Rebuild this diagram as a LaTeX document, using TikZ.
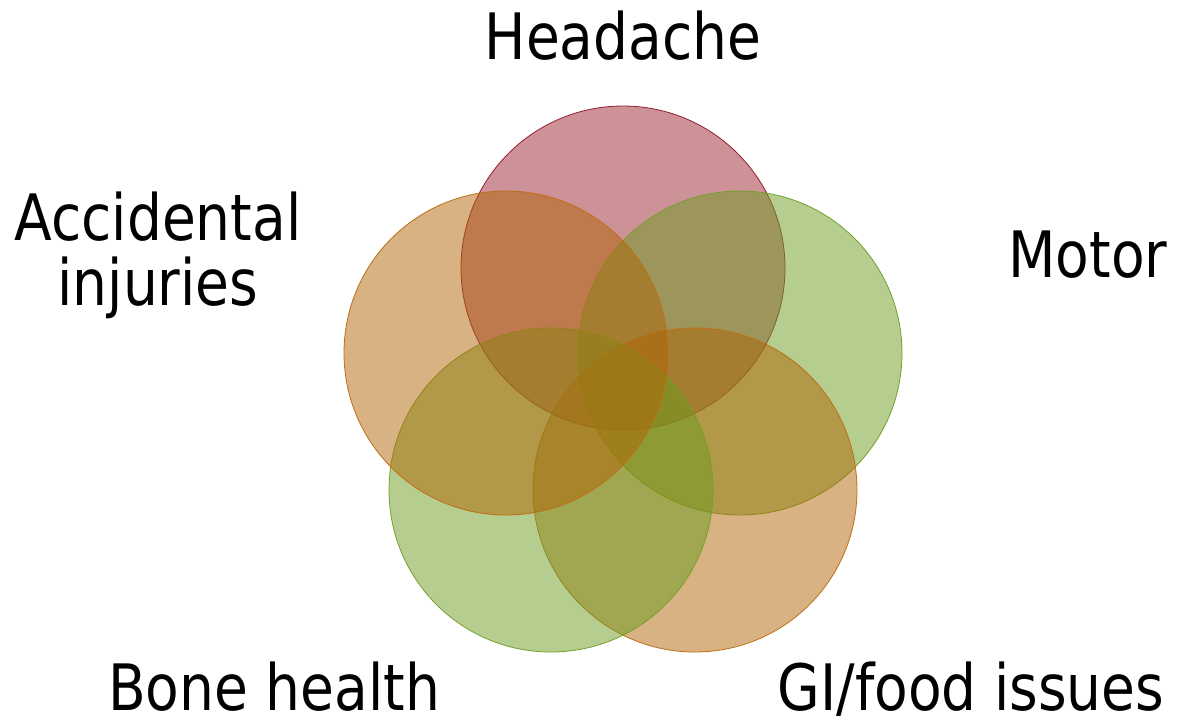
\documentclass[tikz,border=0pt]{standalone}
\usepackage{fontspec}
\setmainfont{DejaVu Sans}[FakeStretch=0.86]
\definecolor{redfill}{RGB}{155,35,49}
\definecolor{redline}{RGB}{150,30,50}
\definecolor{greenfill}{RGB}{107,157,33}
\definecolor{greenline}{RGB}{115,160,40}
\definecolor{orangefill}{RGB}{177,101,5}
\definecolor{orangeline}{RGB}{190,110,20}
\tikzset{
	venn/.style={circle, minimum size=324pt, inner sep=0pt, fill opacity=0.5, line width=0.8pt},
	lbl/.style={anchor=base, inner sep=0pt, font=\fontsize{64}{65}\selectfont, align=center}
}
\begin{document}
\begin{tikzpicture}[x=1pt, y=-1pt]

	\useasboundingbox (0, 0) rectangle (1181, 724);

	% the five sets
	\node[venn, draw=redline, fill=redfill] (headache) at (623, 268) {};
	\node[venn, draw=greenline, fill=greenfill] (motor) at (740, 353) {};
	\node[venn, draw=orangeline, fill=orangefill] (gi) at (695, 490) {};
	\node[venn, draw=greenline, fill=greenfill] (bone) at (551, 490) {};
	\node[venn, draw=orangeline, fill=orangefill] (accident) at (506, 353) {};

	% labels
	\node[lbl] (headachelbl) at (623, 59) {Headache};
	\node[lbl] (motorlbl) at (1088, 277) {Motor};
	\node[lbl] (gilbl) at (971, 710) {GI/food issues};
	\node[lbl] (bonelbl) at (274, 710) {Bone health};
	\node[lbl] (accidentlbl) at (158, 305) {Accidental\\injuries};

\end{tikzpicture}
\end{document}
